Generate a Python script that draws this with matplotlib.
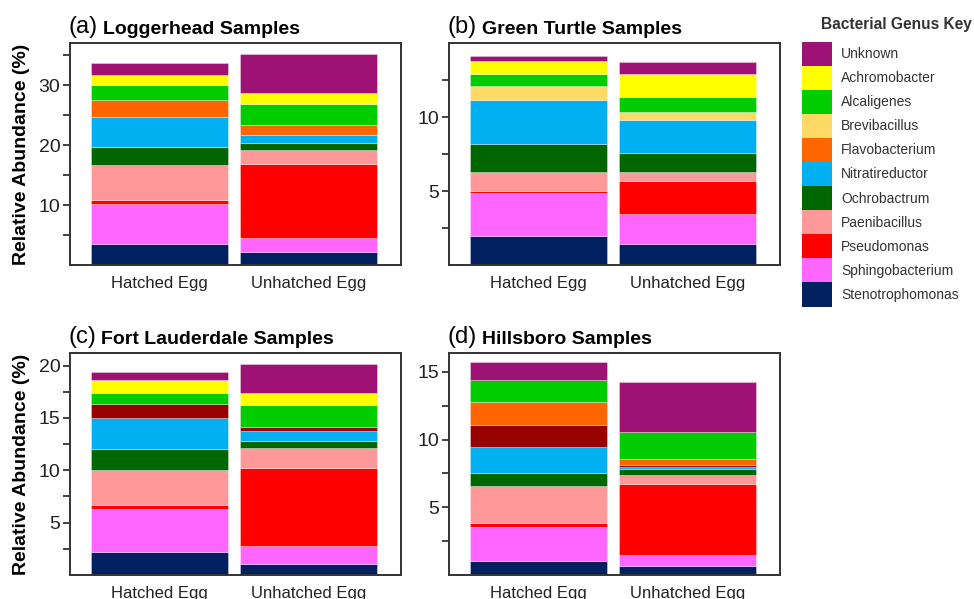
import numpy as np
import matplotlib
matplotlib.use("Agg")
import matplotlib.pyplot as plt
from matplotlib.patches import Patch

plt.rcParams['font.family'] = ['Liberation Sans', 'DejaVu Sans']

# Genera from the bottom of each stack to the top
genera = ['Stenotrophomonas', 'Sphingobacterium', 'Pseudomonas', 'Paenibacillus',
          'Ochrobactrum', 'Nitratireductor', 'Unlisted', 'Flavobacterium',
          'Brevibacillus', 'Alcaligenes', 'Achromobacter', 'Unknown']
colors = ['#002060', '#FF66FF', '#FF0000', '#FF9999',
          '#006600', '#00B0F0', '#990000', '#FF6600',
          '#FFD966', '#00CC00', '#FFFF00', '#9E1276']

samples = ['Hatched Egg', 'Unhatched Egg']

# relative abundance (%) per genus, same order as genera
loggerhead_hatched = [3.5, 6.7, 0.6, 5.9, 3.0, 4.9, 0, 2.9, 0, 2.5, 1.7, 2.0]
loggerhead_unhatched = [2.2, 2.3, 12.4, 2.3, 1.1, 1.45, 0, 1.55, 0, 3.5, 1.9, 6.5]
green_hatched = [1.96, 2.89, 0.18, 1.26, 1.91, 2.97, 0, 0, 0.9, 0.85, 0.88, 0.33]
green_unhatched = [1.44, 2.0, 2.22, 0.63, 1.28, 2.21, 0, 0, 0.56, 1.01, 1.53, 0.81]
fortl_hatched = [2.15, 4.2, 0.35, 3.36, 1.96, 2.95, 1.34, 0, 0, 1.06, 1.28, 0.74]
fortl_unhatched = [1.03, 1.76, 7.47, 1.89, 0.64, 0.96, 0.35, 0, 0, 2.09, 1.21, 2.79]
hills_hatched = [1.07, 2.48, 0.32, 2.73, 0.94, 1.91, 1.64, 1.66, 0, 1.67, 0, 1.34]
hills_unhatched = [0.65, 0.84, 5.21, 0.72, 0.4, 0.17, 0.12, 0.48, 0, 1.98, 0, 3.72]

panels = [
    ('(a)', 'Loggerhead Samples', loggerhead_hatched, loggerhead_unhatched,
     37, [10, 20, 30], [5, 15, 25, 35]),
    ('(b)', 'Green Turtle Samples', green_hatched, green_unhatched,
     15, [5, 10], [2.5, 7.5, 12.5]),
    ('(c)', 'Fort Lauderdale Samples', fortl_hatched, fortl_unhatched,
     21.2, [5, 10, 15, 20], [2.5, 7.5, 12.5, 17.5]),
    ('(d)', 'Hillsboro Samples', hills_hatched, hills_unhatched,
     16.4, [5, 10, 15], [2.5, 7.5, 12.5]),
]

W, H = 974, 599
fig = plt.figure(figsize=(W / 100, H / 100), dpi=100)

# axes boxes in pixels: left, top
boxes = [(70, 43), (449, 43), (70, 353), (449, 353)]
aw, ah = 331, 222

for i, (tag, title, hatched, unhatched, ymax, major, minor) in enumerate(panels):
    left, top = boxes[i]
    ax = fig.add_axes([left / W, 1 - (top + ah) / H, aw / W, ah / H])

    x = np.arange(len(samples))
    for j, vals in enumerate([hatched, unhatched]):
        bottom = 0
        for g, v in enumerate(vals):
            if v > 0:
                ax.bar(x[j], v, bottom=bottom, width=0.913, color=colors[g],
                       edgecolor=(1, 1, 1, 0.45), linewidth=0.5)
            bottom += v

    ax.set_xlim(-0.6, 1.62)
    ax.set_ylim(0, ymax)
    ax.set_xticks(x)
    ax.set_xticklabels(samples, fontsize=12)
    ax.set_yticks(major)
    ax.set_yticks(minor, minor=True)
    ax.tick_params(axis='x', length=0, pad=8, colors='#222')
    ax.tick_params(axis='y', which='both', direction='out', length=5,
                   width=1.2, labelsize=14, colors='#222', pad=2)
    for s in ax.spines.values():
        s.set_linewidth(1.4)
        s.set_color('#333')

    if i % 2 == 0:
        ax.set_ylabel('Relative Abundance (%)', fontsize=14, fontweight='bold',
                      labelpad=6)

    lab = ax.text(-0.006, 1.045, tag, transform=ax.transAxes, fontsize=17,
                  va='baseline', ha='left')
    ax.annotate(title, xy=(1, 0), xycoords=lab, xytext=(4, 0),
                textcoords='offset points', fontsize=14, fontweight='bold',
                va='bottom', ha='left')

# genus key, top of stack first
order = [11, 10, 9, 8, 7, 5, 4, 3, 2, 1, 0]
handles = [Patch(facecolor=colors[k], edgecolor='none') for k in order]
labels = [genera[k] for k in order]
fs = 10
fs_px = fs * 100 / 72
fig.text(821 / W, 1 - 25 / H, 'Bacterial Genus Key', fontsize=11.2,
         fontweight='bold', color='#333', va='center', ha='left')
leg = fig.legend(handles, labels, loc='upper left',
                 bbox_to_anchor=(802 / W, 1 - 41.7 / H), frameon=False,
                 borderpad=0, borderaxespad=0, fontsize=fs,
                 handlelength=30 / fs_px, handleheight=2.29,
                 labelspacing=0, handletextpad=0.65)
for t in leg.get_texts():
    t.set_color('#333')

fig.savefig('out.png', dpi=100)
